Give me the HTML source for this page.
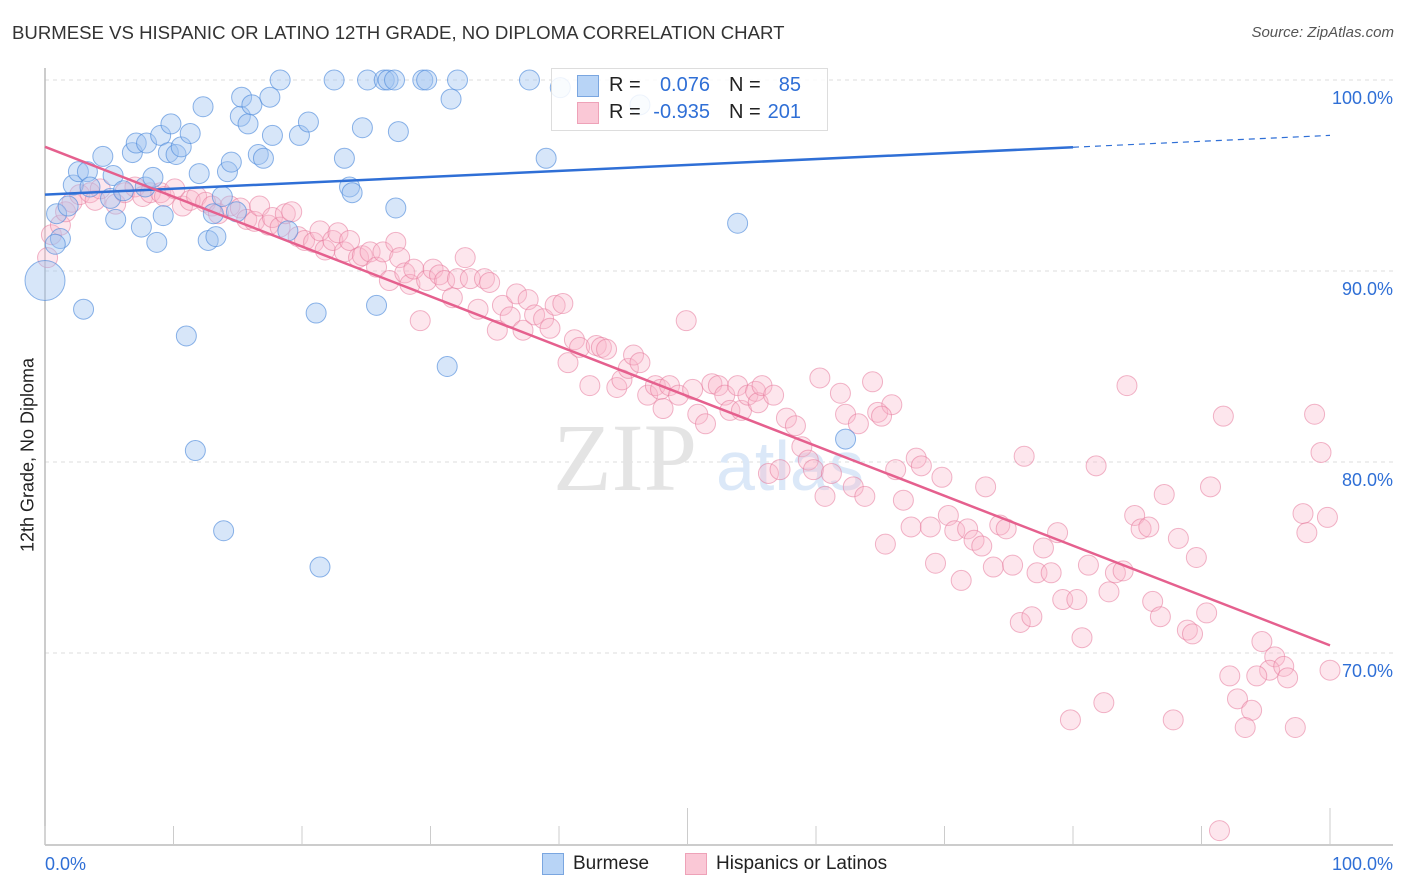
<!DOCTYPE html>
<html><head><meta charset="utf-8"><style>
body{margin:0;background:#fff;font-family:"Liberation Sans",sans-serif;}
#wrap{position:relative;width:1406px;height:892px;overflow:hidden;}
.t{position:absolute;white-space:nowrap;}
</style></head><body>
<div id="wrap">
<div class="t" style="left:12px;top:22px;font-size:18.6px;color:#333;">BURMESE VS HISPANIC OR LATINO 12TH GRADE, NO DIPLOMA CORRELATION CHART</div>
<div class="t" style="right:12px;top:24px;font-size:15px;color:#555;font-style:italic;">Source: ZipAtlas.com</div>
<div class="t" style="left:28px;top:455px;font-size:18px;color:#222;transform:translate(-50%,-50%) rotate(-90deg);transform-origin:center;">12th Grade, No Diploma</div>
<svg id="plot" width="1406" height="892" style="position:absolute;left:0;top:0"></svg>
<div style="position:absolute;left:551px;top:68px;width:275px;height:61px;border:1px solid #ddd;background:rgba(255,255,255,0.85);"></div>
<div style="position:absolute;left:577px;top:75px;width:20px;height:20px;background:#b8d4f6;border:1px solid #7aa6e0;"></div>
<div style="position:absolute;left:577px;top:102px;width:20px;height:20px;background:#fac8d6;border:1px solid #eea2b8;"></div>
<div class="t" style="left:609px;top:74px;font-size:20px;color:#222;">R =</div>
<div class="t" style="left:640px;width:70px;text-align:right;top:74px;font-size:20px;color:#2f6fd6;">0.076</div>
<div class="t" style="left:729px;top:74px;font-size:20px;color:#222;">N =</div>
<div class="t" style="left:760px;width:41px;text-align:right;top:74px;font-size:20px;color:#2f6fd6;">85</div>
<div class="t" style="left:609px;top:101px;font-size:20px;color:#222;">R =</div>
<div class="t" style="left:630px;width:80px;text-align:right;top:101px;font-size:20px;color:#2f6fd6;">-0.935</div>
<div class="t" style="left:729px;top:101px;font-size:20px;color:#222;">N =</div>
<div class="t" style="left:760px;width:41px;text-align:right;top:101px;font-size:20px;color:#2f6fd6;">201</div>
<div style="position:absolute;left:542px;top:853px;width:20px;height:20px;background:#b8d4f6;border:1px solid #7aa6e0;"></div>
<div class="t" style="left:573px;top:853px;font-size:19px;color:#222;">Burmese</div>
<div style="position:absolute;left:685px;top:853px;width:20px;height:20px;background:#fac8d6;border:1px solid #eea2b8;"></div>
<div class="t" style="left:716px;top:853px;font-size:19px;color:#222;">Hispanics or Latinos</div>
</div>
<script>
const xTickLabels=["0.0%","100.0%"];
const yTickValues=[100,90,80,70];
const yTickLabels=["100.0%","90.0%","80.0%","70.0%"];
const burmeseX=[0,0.9,1.2,0.8,1.8,2.2,2.6,3.3,3.5,3.0,4.5,5.1,5.3,5.5,6.1,6.8,7.1,7.9,7.5,7.8,8.4,8.7,9.0,9.2,9.6,9.8,10.2,10.6,11.0,11.3,11.7,12.0,12.3,12.7,13.1,13.3,13.8,13.9,14.2,14.5,14.9,15.2,15.3,15.8,16.1,16.6,17.0,17.5,17.7,18.3,18.9,19.8,20.5,21.1,21.4,22.5,23.3,23.7,23.9,24.7,25.1,25.8,26.4,26.7,27.2,27.3,27.5,29.4,29.7,31.3,31.6,32.1,37.7,39.0,40.1,46.3,53.9,62.3];
const burmeseY=[89.5,93.0,91.7,91.4,93.4,94.5,95.2,95.2,94.4,88.0,96.0,93.8,95.0,92.7,94.2,96.2,96.7,96.7,92.3,94.4,94.9,91.5,97.1,92.9,96.2,97.7,96.1,96.5,86.6,97.2,80.6,95.1,98.6,91.6,93.0,91.8,93.9,76.4,95.2,95.7,93.1,98.1,99.1,97.7,98.7,96.1,95.9,99.1,97.1,100,92.1,97.1,97.8,87.8,74.5,100,95.9,94.4,94.1,97.5,100,88.2,100,100,100,93.3,97.3,100,100,85.0,99.0,100,100,95.9,99.6,98.7,92.5,81.2];
const burmeseSize=[20,10,10,10,10,10,10,10,10,10,10,10,10,10,10,10,10,10,10,10,10,10,10,10,10,10,10,10,10,10,10,10,10,10,10,10,10,10,10,10,10,10,10,10,10,10,10,10,10,10,10,10,10,10,10,10,10,10,10,10,10,10,10,10,10,10,10,10,10,10,10,10,10,10,10,10,10,10];
const hispX=[0.2,0.5,1.2,1.6,2.1,2.7,3.5,3.9,4.3,5.5,6.2,7.0,7.6,8.2,9.0,9.3,10.1,10.7,11.3,11.8,12.5,13.0,13.5,14.4,15.2,15.7,16.3,16.7,17.4,17.7,18.3,18.7,19.2,19.7,20.2,20.9,21.4,21.8,22.4,22.8,23.3,23.7,24.4,24.7,25.3,25.8,26.3,26.8,27.3,27.6,28.0,28.4,28.7,29.2,29.7,30.2,30.7,31.1,31.7,32.1,32.7,33.1,33.7,34.2,34.6,35.2,35.6,36.2,36.7,37.2,37.6,38.1,38.8,39.3,39.7,40.3,40.7,41.2,41.6,42.4,42.9,43.3,43.7,44.5,44.9,45.4,45.8,46.3,46.9,47.5,47.9,48.1,48.6,49.3,49.9,50.4,50.8,51.4,51.9,52.4,52.9,53.3,53.9,54.2,54.7,55.3,55.5,55.8,56.3,56.7,57.2,57.7,58.4,58.9,59.4,59.8,60.3,60.7,61.2,61.9,62.3,62.9,63.3,63.8,64.4,64.8,65.4,65.9,65.1,67.8,68.2,66.2,69.8,76.2,81.8,84.2,91.7,98.8,99.3,73.2,66.8,67.4,68.9,70.3,70.8,71.8,72.3,72.9,74.3,74.8,78.8,77.7,69.3,71.3,73.8,75.3,77.2,78.3,81.2,83.3,83.9,82.8,79.2,80.3,75.9,76.8,80.7,84.8,85.3,85.9,87.1,90.7,88.2,89.6,86.2,86.8,88.9,89.3,90.4,94.7,95.7,95.3,94.3,96.4,96.7,92.2,100,97.9,98.2,99.8,92.8,93.9,93.4,97.3,82.4,79.8,87.8,91.4];
const hispY=[90.7,91.9,92.4,93.1,93.6,94.0,94.1,93.7,94.3,93.5,94.1,94.4,93.9,94.1,94.1,93.9,94.3,93.4,93.7,93.9,93.6,93.4,93.0,93.4,93.3,92.7,92.6,93.4,92.4,92.8,92.3,93.0,93.1,91.8,91.6,91.5,92.1,91.1,91.6,92.0,91.0,91.6,90.7,90.8,91.0,90.2,91.0,89.5,91.5,90.7,89.9,89.3,90.1,87.4,89.5,90.1,89.8,89.5,88.6,89.6,90.7,89.6,88.0,89.6,89.4,86.9,88.2,87.6,88.8,86.9,88.5,87.7,87.5,87.0,88.2,88.3,85.2,86.4,86.0,84.0,86.1,86.0,85.9,83.9,84.3,84.9,85.6,85.2,83.5,84.0,83.8,82.8,84.0,83.5,87.4,83.8,82.5,82.0,84.1,84.0,83.5,82.7,84.0,82.7,83.5,83.7,83.1,84.0,79.4,83.5,79.6,82.3,81.9,80.8,80.1,79.6,84.4,78.2,79.4,83.6,82.5,78.7,82.0,78.2,84.2,82.6,75.7,83.0,82.4,80.2,79.8,79.6,79.2,80.3,79.8,84.0,82.4,82.5,80.5,78.7,78.0,76.6,76.6,77.2,76.4,76.5,75.9,75.6,76.7,76.5,76.3,75.5,74.7,73.8,74.5,74.6,74.2,74.2,74.6,74.2,74.3,73.2,72.8,72.8,71.6,71.9,70.8,77.2,76.5,76.6,78.3,78.7,76.0,75.0,72.7,71.9,71.2,71.0,72.1,70.6,69.8,69.1,68.8,69.3,68.7,68.8,69.1,77.3,76.3,77.1,67.6,67.0,66.1,66.1,67.4,66.5,66.5,60.7];
const burmeseTrend=[94.0,97.1];
const hispTrend=[96.5,70.4];

const NS="http://www.w3.org/2000/svg";
const svg=document.getElementById('plot');
const X0=45,X1=1330,Y100=80,PX10=19.1;
const xs=v=>X0+(X1-X0)*v/100;
const ys=v=>Y100+(100-v)*PX10;
function mk(tag,at){const e=document.createElementNS(NS,tag);for(const k in at)e.setAttribute(k,at[k]);svg.appendChild(e);return e;}
yTickValues.forEach((v,i)=>{
  const g=mk('line',{x1:X0,x2:1393,y1:ys(v),y2:ys(v),stroke:'#ddd','stroke-dasharray':'4,4'});
  
  
  const t=mk('text',{x:1393,y:ys(v)+24,'text-anchor':'end','font-size':18,fill:'#2f6fd6','font-family':'Liberation Sans'});
  t.textContent=yTickLabels[i];
  
  
});
const ax=mk('line',{x1:X0,x2:1393,y1:845,y2:845,stroke:'#bbb','stroke-width':1.5});


const ay=mk('line',{x1:X0,x2:X0,y1:68,y2:845,stroke:'#bbb','stroke-width':1.5});


for(let i=0;i<=10;i++){
  const tk=mk('line',{x1:xs(i*10),x2:xs(i*10),y1:(i%5==0&&i>0)?808:826,y2:845,stroke:'#ccc'});
  
  
}
[[0,'start'],[100,'end']].forEach((p,i)=>{
  const t=mk('text',{x:i?1393:45,y:870,'text-anchor':p[1],'font-size':18,fill:'#2f6fd6','font-family':'Liberation Sans'});
  t.textContent=xTickLabels[i];
  
  
});
const w1=mk('text',{x:553,y:490,'font-size':96,fill:'#e4e4e4','font-family':'Liberation Serif'});
w1.textContent='ZIP';


const w2=mk('text',{x:716,y:490,'font-size':70,fill:'#dbe8f8','font-family':'Liberation Sans'});
w2.textContent='atlas';


hispX.forEach((v,i)=>{
  const c=mk('circle',{cx:xs(v),cy:ys(hispY[i]),r:10,fill:'rgba(248,182,202,0.35)',stroke:'rgba(230,120,155,0.55)','stroke-width':1});
  
  
});
burmeseX.forEach((v,i)=>{
  const c=mk('circle',{cx:xs(v),cy:ys(burmeseY[i]),r:burmeseSize[i],fill:'rgba(160,196,240,0.42)',stroke:'rgba(80,140,220,0.65)','stroke-width':1});
  
  
});
const bAt=v=>burmeseTrend[0]+(burmeseTrend[1]-burmeseTrend[0])*v/100;
const tb=mk('line',{x1:xs(0),y1:ys(bAt(0)),x2:xs(80),y2:ys(bAt(80)),stroke:'#2f6fd6','stroke-width':2.5});


const tbd=mk('line',{x1:xs(80),y1:ys(bAt(80)),x2:xs(100),y2:ys(bAt(100)),stroke:'#2f6fd6','stroke-width':1.2,'stroke-dasharray':'6,5'});


const th=mk('line',{x1:xs(0),y1:ys(hispTrend[0]),x2:xs(100),y2:ys(hispTrend[1]),stroke:'#e5608e','stroke-width':2.5});


</script>
</body></html>
